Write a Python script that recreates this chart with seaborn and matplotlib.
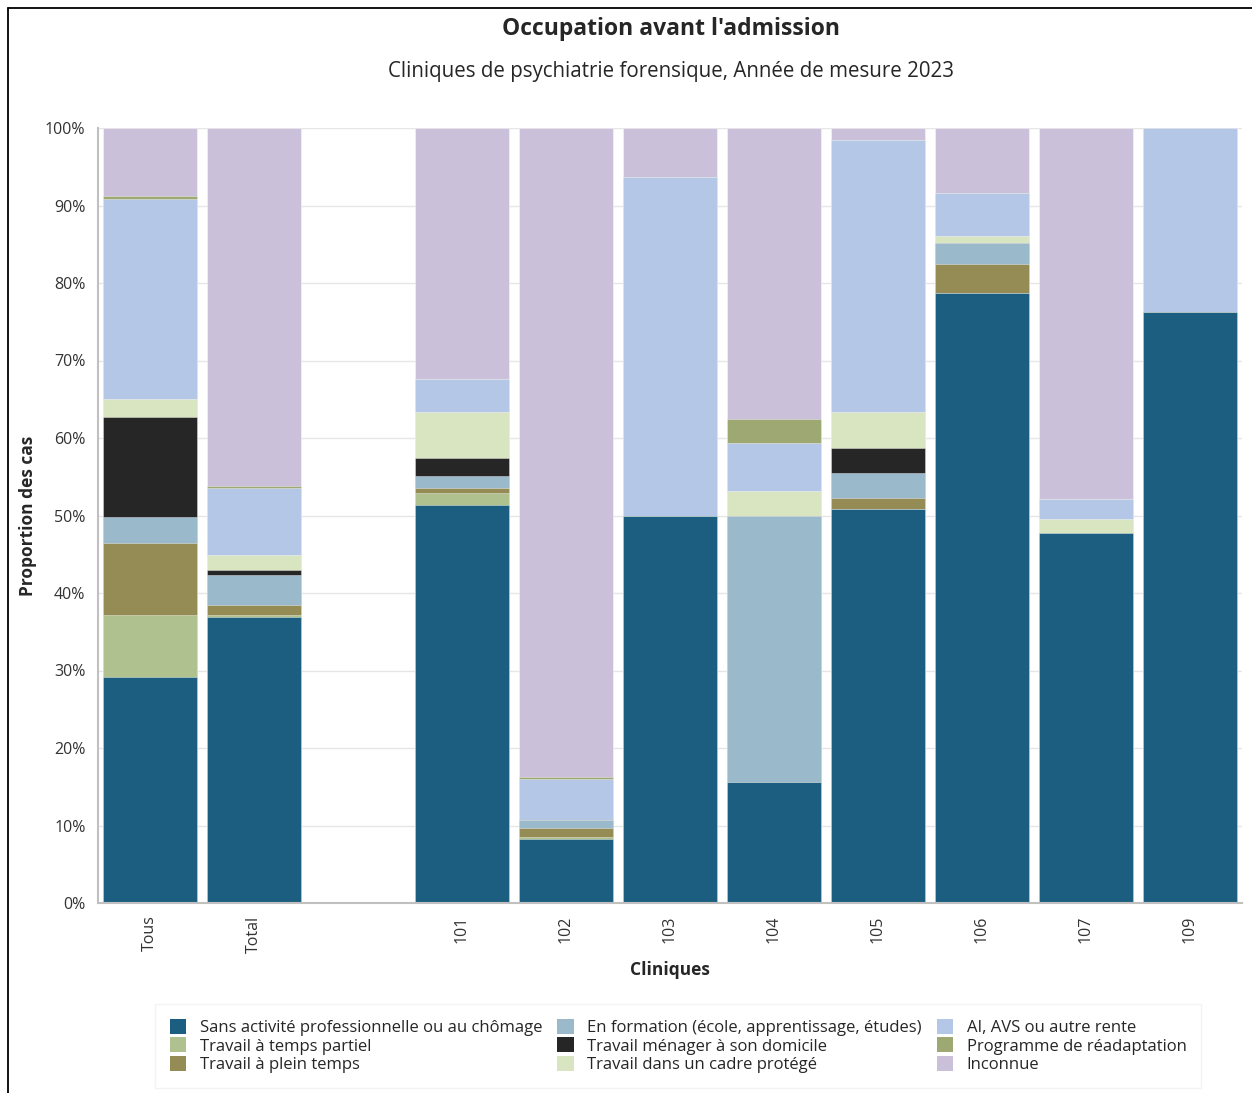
import pandas as pd
import matplotlib.pyplot as plt
import seaborn as sns
from matplotlib.patches import Patch
from matplotlib.lines import Line2D

# Style
sns.set_theme(style="white")
plt.rcParams['font.family'] = ['Open Sans', 'DejaVu Sans']

# Données (proportion en %)
cliniques = ["Tous", "Total", "", "101", "102", "103", "104", "105", "106", "107", "109"]
barres = ["Tous", "Total", "101", "102", "103", "104", "105", "106", "107", "109"]

sans_activite = [29.15, 36.9, 51.4, 8.25, 50.0, 15.55, 50.8, 78.7, 47.8, 76.2]
temps_partiel = [8.0, 0.3, 1.5, 0.3, 0, 0, 0, 0, 0, 0]
plein_temps = [9.35, 1.2, 0.7, 1.15, 0, 0, 1.5, 3.7, 0, 0]
formation = [3.25, 3.9, 1.5, 1.0, 0, 34.45, 3.2, 2.7, 0, 0]
menager = [12.95, 0.7, 2.3, 0, 0, 0, 3.15, 0, 0, 0]
cadre_protege = [2.3, 1.9, 5.9, 0, 0, 3.1, 4.75, 1.0, 1.75, 0]
rente = [25.8, 8.6, 4.3, 5.25, 43.7, 6.3, 35.0, 5.55, 2.55, 23.8]
readaptation = [0.45, 0.3, 0, 0.25, 0, 3.0, 0, 0, 0, 0]
inconnue = [8.75, 46.2, 32.4, 83.8, 6.3, 37.6, 1.6, 8.35, 47.9, 0]

series = {
    "Sans activité professionnelle ou au chômage": sans_activite,
    "Travail à temps partiel": temps_partiel,
    "Travail à plein temps": plein_temps,
    "En formation (école, apprentissage, études)": formation,
    "Travail ménager à son domicile": menager,
    "Travail dans un cadre protégé": cadre_protege,
    "AI, AVS ou autre rente": rente,
    "Programme de réadaptation": readaptation,
    "Inconnue": inconnue,
}
couleurs = ["#1b5e7f", "#aec18e", "#958b54", "#9ab9cb", "#262626",
            "#d9e5c0", "#b4c7e7", "#9ea872", "#cbc0da"]

df = pd.DataFrame(series, index=barres)
cumul = df.cumsum(axis=1)

# Figure
fig = plt.figure(figsize=(12.52, 10.93), dpi=100)
W, H = 1252, 1093
ax = fig.add_axes([98 / W, 1 - 903 / H, 1144 / W, 775 / H])

# Barres empilées : on dessine les cumuls du haut vers le bas
noms = list(series.keys())
for nom, couleur in reversed(list(zip(noms, couleurs))):
    d = cumul[nom].rename("valeur").rename_axis("clinique").reset_index()
    sns.barplot(data=d, x="clinique", y="valeur", order=cliniques, color=couleur,
                saturation=1, width=0.9, errorbar=None, ax=ax,
                edgecolor=(1, 1, 1, 0.45), linewidth=0.6, zorder=2)

ax.set_xlim(-0.5, len(cliniques) - 0.5)
ax.set_ylim(0, 100)
ax.set_yticks(range(0, 101, 10))
ax.set_yticklabels([f"{v}%" for v in range(0, 101, 10)])
ax.yaxis.grid(True, color="#e6e6e6", linewidth=1, zorder=0)
ax.set_axisbelow(True)

ax.set_xticks(range(len(cliniques)))
ax.set_xticklabels(cliniques, rotation=90)
ax.set_xticks([i - 0.5 for i in range(len(cliniques) + 1)], minor=True)
ax.tick_params(axis="x", which="major", length=0, pad=9, labelsize=11.5, labelcolor="#333333")
ax.tick_params(axis="x", which="minor", length=7, width=1, color="#c8c8c8")
ax.tick_params(axis="y", which="major", length=6, width=1, color="#c8c8c8",
               labelsize=11.5, labelcolor="#333333", pad=3)

for s in ["top", "right"]:
    ax.spines[s].set_visible(False)
for s in ["left", "bottom"]:
    ax.spines[s].set_color("#c0c0c0")
    ax.spines[s].set_linewidth(1.5)

ax.set_xlabel("Cliniques", fontweight="bold", fontsize=12.5, labelpad=6)
ax.set_ylabel("Proportion des cas", fontweight="bold", fontsize=12.5, labelpad=6)

# Titres
fig.text(671 / W, 1 - 29 / H, "Occupation avant l'admission",
         ha="center", va="center", fontweight="bold", fontsize=16.5)
fig.text(671 / W, 1 - 72 / H, "Cliniques de psychiatrie forensique, Année de mesure 2023",
         ha="center", va="center", fontsize=14.8)

# Légende
handles = [Patch(facecolor=c, edgecolor="none", label=n) for n, c in zip(noms, couleurs)]
leg = fig.legend(handles=handles, loc="center", bbox_to_anchor=(678 / W, 1 - 1046 / H),
                 ncol=3, frameon=True, fontsize=12, handlelength=1.0, handleheight=1.0,
                 handletextpad=0.8, columnspacing=0.9, labelspacing=0.1,
                 borderpad=0.9, fancybox=False)
leg.get_frame().set_edgecolor("#f0f0f0")
leg.get_frame().set_linewidth(1)

# Cadre de l'image (gauche et haut)
fig.add_artist(Line2D([8 / W, 8 / W], [0, 1 - 8 / H], color="black", linewidth=1.3))
fig.add_artist(Line2D([8 / W, 1], [1 - 8 / H, 1 - 8 / H], color="black", linewidth=1.3))

plt.savefig("out.png", dpi=100)
plt.close()
